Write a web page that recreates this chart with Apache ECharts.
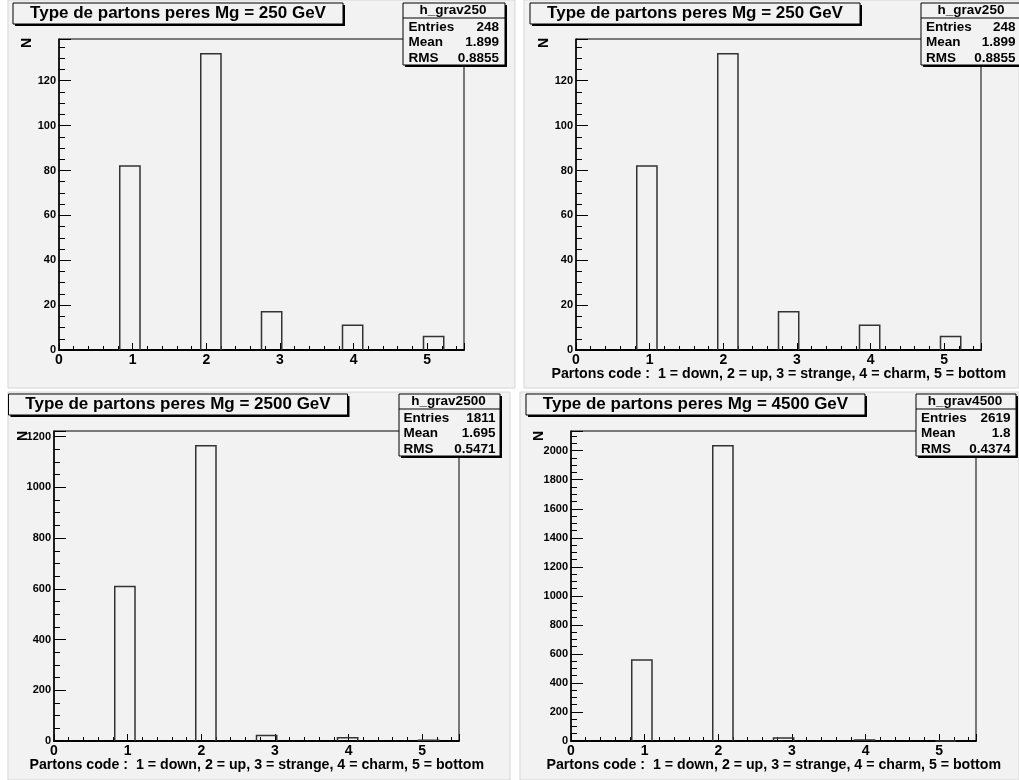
<!DOCTYPE html>
<html>
<head>
<meta charset="utf-8">
<style>
  html, body { margin: 0; padding: 0; background: #ffffff; }
  #chart { width: 1019px; height: 780px; }
</style>
<script src="https://cdn.jsdelivr.net/npm/echarts/dist/echarts.min.js"></script>
</head>
<body>
<div id="chart"></div>
<script>
// ---------------- data ----------------
const partonCodes = [1, 2, 3, 4, 5];
const binLowEdges = [0.825, 1.925, 2.75, 3.85, 4.95];
const binWidth = 0.275;
const xTickLabels = ['0', '1', '2', '3', '4', '5'];

const counts250 = [82, 132, 17, 11, 6];
const counts2500 = [609, 1164, 22, 13, 3];
const counts4500 = [558, 2034, 20, 7, 0];

const panelTitles = [
  'Type de partons peres Mg = 250 GeV',
  'Type de partons peres Mg = 250 GeV',
  'Type de partons peres Mg = 2500 GeV',
  'Type de partons peres Mg = 4500 GeV'
];
const histNames = ['h_grav250', 'h_grav250', 'h_grav2500', 'h_grav4500'];
const statEntries = ['248', '248', '1811', '2619'];
const statMeans = ['1.899', '1.899', '1.695', '1.8'];
const statRms = ['0.8855', '0.8855', '0.5471', '0.4374'];
const yMajorSteps = [20, 20, 200, 200];
const xAxisTitle = 'Partons code :  1 = down, 2 = up, 3 = strange, 4 = charm, 5 = bottom';
const showXTitle = [false, true, true, true];
const yAxisTitle = 'N';

const panelCounts = [counts250, counts250, counts2500, counts4500];

// ---------------- layout ----------------
const FONT = '"Liberation Sans", Arial, Helvetica, sans-serif';
const BG = '#f2f2f2';
const layout = [
  { bg: [8, 0, 507, 388],   grid: [59, 39, 405, 311],  title: [13, 3, 330, 21],  stat: [403, 3, 102, 62, 408.5, 499],   nPos: [27, 43],  xt: [1006, 374] },
  { bg: [524, 0, 495, 388], grid: [576, 39, 405, 311], title: [530, 3, 330, 21], stat: [921, 3, 102, 62, 926, 1015.5],  nPos: [544, 43], xt: [1006, 374] },
  { bg: [8, 392, 502, 388], grid: [54, 431, 405, 310], title: [8.5, 394, 339, 21], stat: [399, 394, 101, 62, 403.5, 495.5], nPos: [23, 436], xt: [484, 765] },
  { bg: [520, 392, 499, 388], grid: [571, 431, 405, 310], title: [526, 394, 339, 21], stat: [916, 394, 100, 62, 921, 1010.5], nPos: [539, 436], xt: [1001, 765] }
];

const graphics = [];
const grids = [];
const xAxes = [];
const yAxes = [];
const series = [];

layout.forEach((L, i) => {
  const counts = panelCounts[i];
  const ymax = Math.max(...counts) * 1.05;
  const step = yMajorSteps[i];

  // panel background
  graphics.push({ type: 'rect', z: -100, shape: { x: L.bg[0], y: L.bg[1], width: L.bg[2], height: L.bg[3] },
    style: { fill: BG, stroke: '#d6d6d6', lineWidth: 1 } });

  // title box with shadow
  const [tx, ty, tw, th] = L.title;
  graphics.push({ type: 'rect', z: 100, shape: { x: tx + 2, y: ty + 2, width: tw, height: th }, style: { fill: '#000' } });
  graphics.push({ type: 'rect', z: 101, shape: { x: tx, y: ty, width: tw, height: th }, style: { fill: BG, stroke: '#000', lineWidth: 1 } });
  graphics.push({ type: 'text', z: 102, x: tx + tw / 2, y: ty + th / 2,
    style: { text: panelTitles[i], font: 'bold 17px ' + FONT, fill: '#000', align: 'center', verticalAlign: 'middle' } });

  // stats box
  const [sx, sy, sw, sh, tl, tr] = L.stat;
  graphics.push({ type: 'rect', z: 100, shape: { x: sx + 2, y: sy + 2, width: sw, height: sh }, style: { fill: '#000' } });
  graphics.push({ type: 'rect', z: 101, shape: { x: sx, y: sy, width: sw, height: sh }, style: { fill: BG, stroke: '#000', lineWidth: 1 } });
  graphics.push({ type: 'line', z: 102, shape: { x1: sx, y1: sy + 15, x2: sx + sw, y2: sy + 15 }, style: { stroke: '#000', lineWidth: 1 } });
  graphics.push({ type: 'text', z: 102, x: sx + sw / 2 - 1, y: sy + 7.5,
    style: { text: histNames[i], font: 'bold 13.5px ' + FONT, fill: '#000', align: 'center', verticalAlign: 'middle' } });
  const rows = [['Entries', statEntries[i]], ['Mean', statMeans[i]], ['RMS', statRms[i]]];
  rows.forEach((r, k) => {
    const yy = sy + 24 + k * 15.5;
    graphics.push({ type: 'text', z: 102, x: tl, y: yy,
      style: { text: r[0], font: 'bold 13.5px ' + FONT, fill: '#000', align: 'left', verticalAlign: 'middle' } });
    graphics.push({ type: 'text', z: 102, x: tr, y: yy,
      style: { text: r[1], font: 'bold 13.5px ' + FONT, fill: '#000', align: 'right', verticalAlign: 'middle' } });
  });

  // y axis title (rotated N)
  graphics.push({ type: 'text', z: 50, x: L.nPos[0], y: L.nPos[1], rotation: Math.PI / 2,
    style: { text: yAxisTitle, font: 'bold 14px ' + FONT, fill: '#000', align: 'center', verticalAlign: 'middle' } });

  // x axis title
  if (showXTitle[i]) {
    graphics.push({ type: 'text', z: 50, x: L.xt[0], y: L.xt[1],
      style: { text: xAxisTitle, font: 'bold 14.2px ' + FONT, fill: '#000', align: 'right', verticalAlign: 'middle' } });
  }

  grids.push({ left: L.grid[0], top: L.grid[1], width: L.grid[2], height: L.grid[3],
    show: true, borderColor: '#000', borderWidth: 1, backgroundColor: 'transparent' });

  // main x axis
  xAxes.push({ type: 'value', gridIndex: i, position: 'bottom', min: 0, max: 5.5, interval: 1,
    axisLine: { show: true, onZero: false, lineStyle: { color: '#000', width: 2 } },
    axisTick: { show: true, inside: true, length: 7, lineStyle: { color: '#000', width: 1 } },
    axisLabel: { show: true, margin: 3, color: '#000', fontSize: 14, fontWeight: 'bold', fontFamily: FONT,
      formatter: v => (xTickLabels[v] !== undefined ? xTickLabels[v] : '') },
    splitLine: { show: false } });
  // minor x ticks
  xAxes.push({ type: 'value', gridIndex: i, position: 'bottom', min: 0, max: 5.5, interval: 0.2,
    axisLine: { show: false, onZero: false },
    axisTick: { show: true, inside: true, length: 4, lineStyle: { color: '#000', width: 1 } },
    axisLabel: { show: false }, splitLine: { show: false } });

  // main y axis
  yAxes.push({ type: 'value', gridIndex: i, position: 'left', min: 0, max: ymax, interval: step,
    axisLine: { show: true, onZero: false, lineStyle: { color: '#000', width: 1.5 } },
    axisTick: { show: true, inside: true, length: 12, lineStyle: { color: '#000', width: 1 } },
    axisLabel: { show: true, margin: 3, color: '#000', fontSize: 11, fontWeight: 'bold', fontFamily: FONT,
      formatter: v => (Math.abs(v - ymax) < 1e-6 ? '' : String(v)) },
    splitLine: { show: false } });
  // minor y ticks
  yAxes.push({ type: 'value', gridIndex: i, position: 'left', min: 0, max: ymax, interval: step / 4,
    axisLine: { show: false, onZero: false },
    axisTick: { show: true, inside: true, length: 6, lineStyle: { color: '#000', width: 1 } },
    axisLabel: { show: false }, splitLine: { show: false } });

  series.push({
    type: 'custom',
    xAxisIndex: 2 * i, yAxisIndex: 2 * i,
    z: 5,
    data: binLowEdges.map((lo, k) => [lo, lo + binWidth, counts[k], partonCodes[k]]),
    encode: { x: [0, 1], y: 2 },
    renderItem: (params, api) => {
      const lo = api.value(0), hi = api.value(1), n = api.value(2);
      const a = api.coord([lo, 0]);
      const b = api.coord([hi, n]);
      return {
        type: 'polyline',
        shape: { points: [[a[0], a[1]], [a[0], b[1]], [b[0], b[1]], [b[0], a[1]]] },
        style: { stroke: '#333', fill: null, lineWidth: 1.5 }
      };
    }
  });
});

const chart = echarts.init(document.getElementById('chart'), null, { renderer: 'canvas' });
chart.setOption({
  animation: false,
  backgroundColor: '#ffffff',
  graphic: graphics,
  grid: grids,
  xAxis: xAxes,
  yAxis: yAxes,
  series: series
});
</script>
</body>
</html>
